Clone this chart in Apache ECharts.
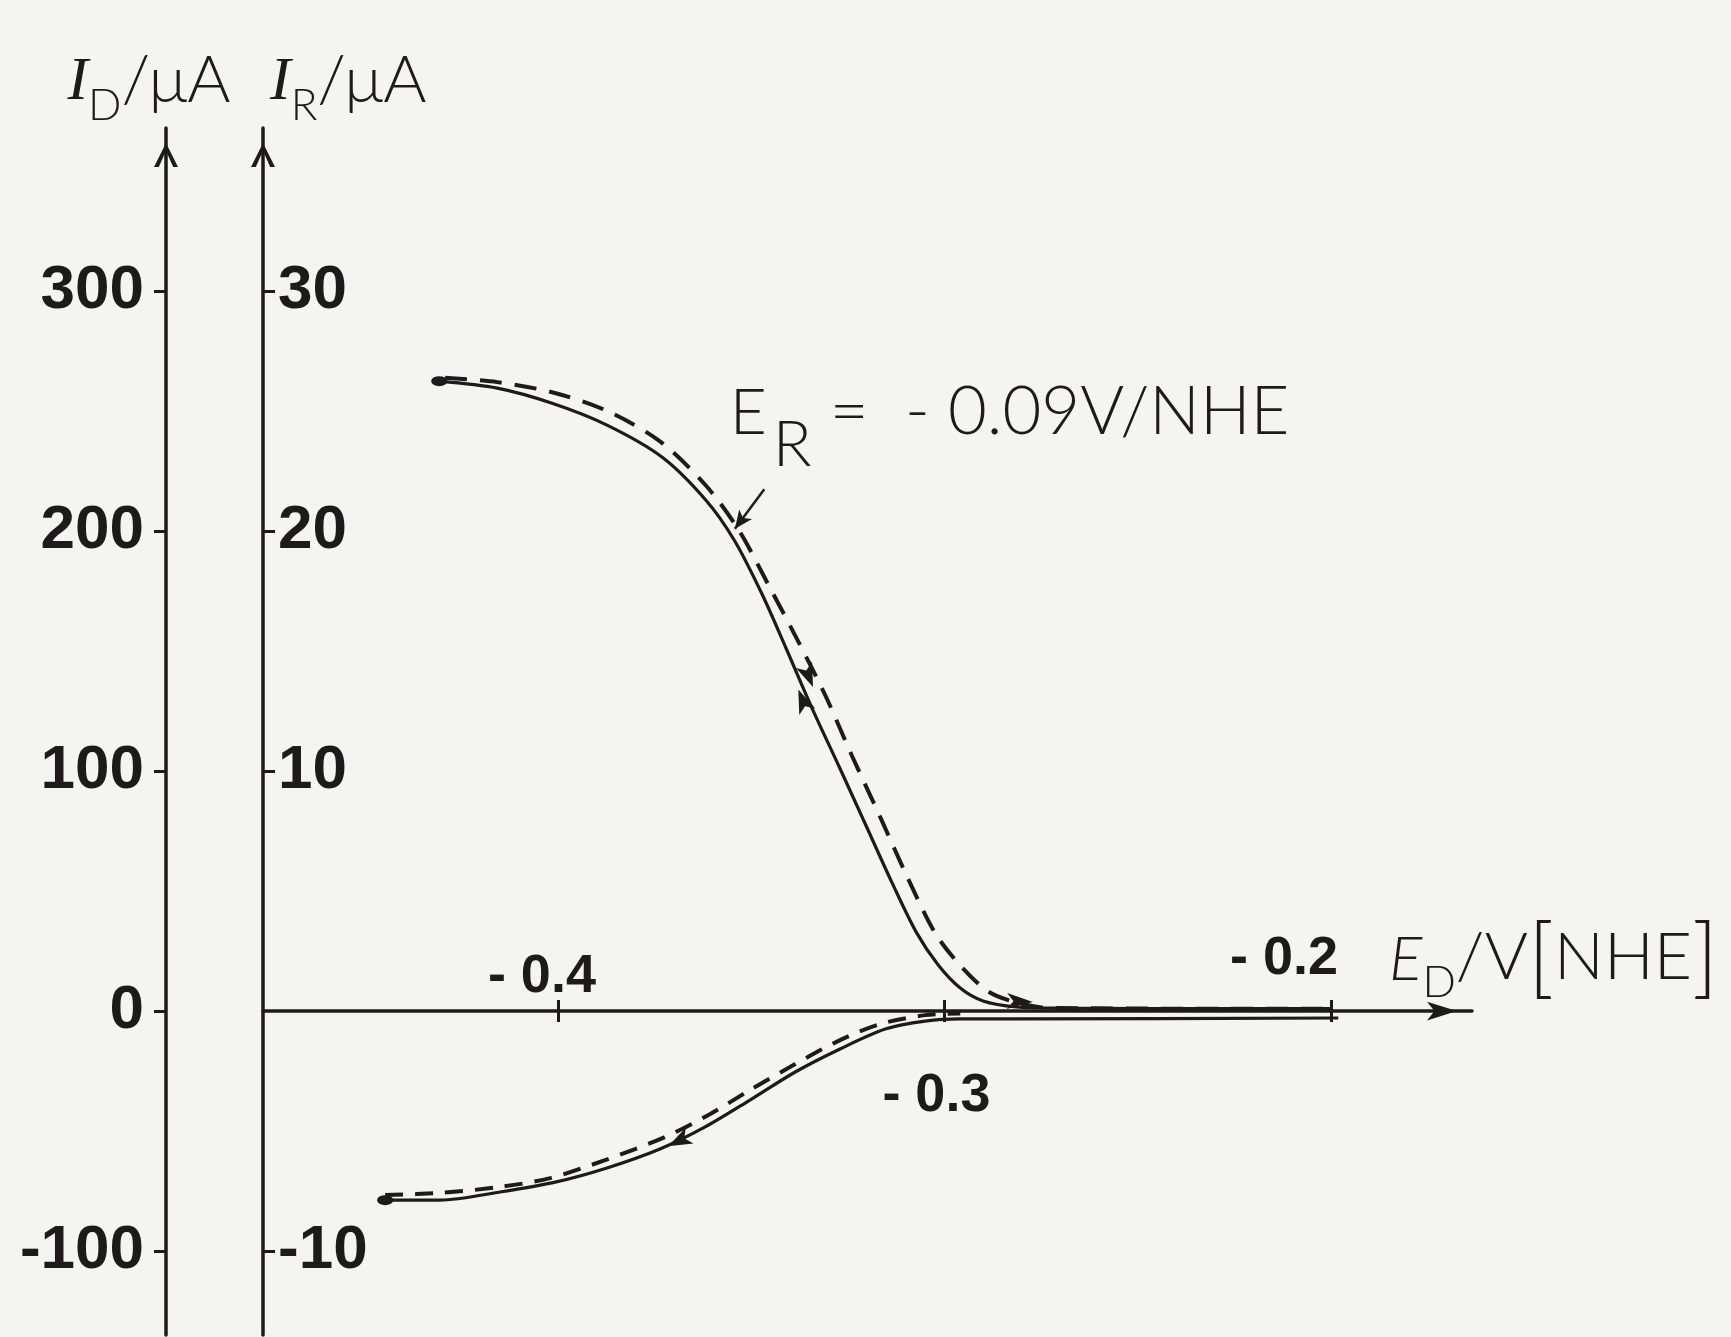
<!DOCTYPE html>
<html>
<head>
<meta charset="utf-8">
<script src="https://cdn.jsdelivr.net/npm/echarts@6/dist/echarts.min.js"></script>
<style>
html,body{margin:0;padding:0;background:#f4f4f2;}
#c{width:1731px;height:1337px;}
</style>
</head>
<body>
<div id="c"></div>
<script>
// ---- data (E in V vs NHE, currents in µA) ----
// disk current, solid sweep
const diskSolidE = [-0.4307, -0.4157, -0.4015, -0.3873, -0.3730, -0.3617, -0.3544, -0.3472, -0.3410, -0.3345, -0.3272, -0.3200, -0.3135, -0.3073, -0.3016, -0.2959, -0.2900, -0.2814, -0.2701, -0.2300, -0.2000];
const diskSolidI = [262.5, 259.6, 253.3, 244.2, 230.8, 212.9, 196.3, 173.8, 151.3, 127.1, 101.7, 76.3, 53.3, 32.9, 19.2, 9.6, 4.2, 1.7, 1.2, 1.0, 1.0];
// disk current, dashed sweep
const diskDashE = [-0.4292, -0.4157, -0.4015, -0.3873, -0.3735, -0.3616, -0.3532, -0.3455, -0.3380, -0.3308, -0.3239, -0.3166, -0.3095, -0.3024, -0.2958, -0.2887, -0.2815, -0.2730, -0.2300, -0.2000];
const diskDashI = [263.9, 262.1, 257.9, 250.1, 237.3, 218.8, 200.4, 177.5, 154.6, 131.5, 106.3, 80.8, 55.5, 32.5, 18.8, 8.2, 3.6, 1.3, 1.0, 1.0];
// ring current, solid sweep
const ringSolidE = [-0.4447, -0.4305, -0.4150, -0.4007, -0.3873, -0.3736, -0.3619, -0.3503, -0.3386, -0.3270, -0.3153, -0.3050, -0.2959, -0.2804, -0.1981];
const ringSolidI = [-7.88, -7.88, -7.54, -7.13, -6.54, -5.75, -4.83, -3.71, -2.54, -1.58, -0.75, -0.42, -0.33, -0.33, -0.29];
// ring current, dashed sweep
const ringDashE = [-0.4447, -0.4305, -0.4150, -0.4020, -0.3878, -0.3723, -0.3606, -0.3503, -0.3386, -0.3270, -0.3166, -0.3050, -0.2959];
const ringDashI = [-7.67, -7.58, -7.33, -6.96, -6.21, -5.25, -4.29, -3.29, -2.21, -1.21, -0.54, -0.17, -0.10];

// ---- axes ticks / labels ----
const xTicks = [-0.4, -0.3, -0.2];
const xTickLabels = ['- 0.4', '- 0.3', '- 0.2'];
const yTicksDisk = [300, 200, 100, 0, -100];
const yTicksRing = [30, 20, 10, -10];
const annotationText = ' =  - 0.09V/NHE';

const ink = '#1e1a1b';
const boldFont = '"Liberation Sans", Arial, Helvetica, sans-serif';
const lightFont = 'Lato, "Noto Sans", "DejaVu Sans", sans-serif';
const serifFont = '"Liberation Serif", "DejaVu Serif", serif';
const chevron = 'path://M50,0 L100,100 L80,100 L50,32 L20,100 L0,100 Z';
const zip = (a, b) => a.map((v, i) => [v, b[i]]);

// label placement style per tick (above / below the axis line)
const xLabelStyle = {
  '- 0.4': {position: 'top', distance: 6, offset: [-16, 0]},
  '- 0.3': {position: 'bottom', distance: 58, offset: [-8, 0]},
  '- 0.2': {position: 'top', distance: 24, offset: [-47, 0]}
};

const axisNameRich = {
  i: {fontFamily: serifFont, fontStyle: 'italic', fontSize: 62, color: ink, padding: [0, 0, 14, 0], verticalAlign: 'bottom'},
  s: {fontFamily: lightFont, fontWeight: 300, fontSize: 44, color: ink, verticalAlign: 'bottom'},
  t: {fontFamily: lightFont, fontWeight: 300, fontSize: 66, color: ink, padding: [0, 0, 14, 0], verticalAlign: 'bottom'}
};

const xMin = -0.4763, xMax = -0.1635;
const lineBase = {type: 'line', showSymbol: false, smooth: 0.3, silent: true, z: 3};

const option = {
  backgroundColor: '#f4f4f2',
  animation: false,
  grid: {left: 263, right: 259, top: 128, bottom: 2, containLabel: false, outerBoundsMode: 'none'},
  xAxis: [
    {
      type: 'value', position: 'bottom', min: xMin, max: xMax,
      axisLine: {show: true, onZero: true, lineStyle: {color: ink, width: 3.5},
        symbol: ['none', 'arrow'], symbolSize: [14, 30], symbolOffset: [0, -15]},
      axisTick: {show: true, inside: true, length: 11, customValues: xTicks, lineStyle: {color: ink, width: 3}},
      axisLabel: {show: false},
      splitLine: {show: false},
      name: '{e|E}{s|D}{t|/V}{b|[}{t|NHE}{b|]}',
      nameLocation: 'end', nameGap: -83, nameMoveOverlap: false,
      nameTextStyle: {align: 'left', verticalAlign: 'bottom', padding: [0, 0, 6, 0],
        rich: {
          e: {fontFamily: lightFont, fontStyle: 'italic', fontWeight: 300, fontSize: 62, color: ink, padding: [0, 0, 14, 0], verticalAlign: 'bottom'},
          s: {fontFamily: lightFont, fontWeight: 300, fontSize: 44, color: ink, verticalAlign: 'bottom'},
          t: {fontFamily: lightFont, fontWeight: 300, fontSize: 66, color: ink, padding: [0, 0, 14, 0], verticalAlign: 'bottom'},
          b: {fontFamily: lightFont, fontWeight: 300, fontSize: 88, color: ink, padding: [0, 0, 2, 0], verticalAlign: 'bottom'}
        }}
    },
    {
      type: 'value', position: 'bottom', min: xMin, max: xMax,
      axisLine: {show: false, onZero: true},
      axisTick: {show: true, inside: false, length: 11, customValues: xTicks, lineStyle: {color: ink, width: 3}},
      axisLabel: {show: false},
      splitLine: {show: false}
    }
  ],
  yAxis: [
    {
      type: 'value', position: 'left', offset: 97, min: -135, max: 368,
      axisLine: {show: true, onZero: false, lineStyle: {color: ink, width: 3.5},
        symbol: ['none', chevron], symbolSize: [24, 54], symbolOffset: [0, -27]},
      axisTick: {show: true, inside: false, length: 12, customValues: yTicksDisk, lineStyle: {color: ink, width: 3}},
      axisLabel: {show: true, inside: false, margin: 22, customValues: yTicksDisk,
        fontFamily: boldFont, fontWeight: 'bold', fontSize: 62, color: ink},
      splitLine: {show: false},
      name: '{i|I}{s|D}{t|/μA}', nameLocation: 'end', nameGap: 0, nameMoveOverlap: false,
      nameTextStyle: {align: 'center', verticalAlign: 'bottom', padding: [0, 34, 0, 0], rich: axisNameRich}
    },
    {
      type: 'value', position: 'left', offset: 0, min: -13.5, max: 36.8,
      axisLine: {show: true, onZero: false, lineStyle: {color: ink, width: 3.5},
        symbol: ['none', chevron], symbolSize: [24, 54], symbolOffset: [0, -27]},
      axisTick: {show: true, inside: true, length: 12, customValues: yTicksRing, lineStyle: {color: ink, width: 3}},
      axisLabel: {show: true, inside: true, margin: 15, customValues: yTicksRing,
        fontFamily: boldFont, fontWeight: 'bold', fontSize: 62, color: ink},
      splitLine: {show: false},
      name: '{i|I}{s|R}{t|/μA}', nameLocation: 'end', nameGap: 0, nameMoveOverlap: false,
      nameTextStyle: {align: 'left', verticalAlign: 'bottom', padding: [0, 0, 0, 7], rich: axisNameRich}
    }
  ],
  series: [
    Object.assign({}, lineBase, {
      name: 'I_D solid', xAxisIndex: 0, yAxisIndex: 0,
      data: zip(diskSolidE, diskSolidI),
      lineStyle: {color: ink, width: 3.2},
      markPoint: {
        silent: true, animation: false, label: {show: false},
        data: [
          {coord: [diskSolidE[0], diskSolidI[0]], symbol: 'circle', symbolSize: [16, 10], itemStyle: {color: ink}},
          {coord: [-0.3378, 134], symbol: 'arrow', symbolSize: [13, 24], symbolRotate: 22, itemStyle: {color: ink}}
        ]
      }
    }),
    Object.assign({}, lineBase, {
      name: 'I_D dashed', xAxisIndex: 0, yAxisIndex: 0,
      data: zip(diskDashE, diskDashI),
      lineStyle: {color: ink, width: 4, type: [22, 13]},
      markPoint: {
        silent: true, animation: false,
        data: [
          {coord: [-0.3340, 135], symbol: 'arrow', symbolSize: [13, 24], symbolRotate: 202, itemStyle: {color: ink}, label: {show: false}},
          {coord: [-0.2771, 3.8], symbol: 'arrow', symbolSize: [12, 26], symbolRotate: -92, itemStyle: {color: ink}, label: {show: false}},
          {coord: [-0.3557, 243], symbol: 'circle', symbolSize: 1, itemStyle: {color: 'rgba(0,0,0,0)'},
            label: {show: true, position: 'right', distance: 0,
              formatter: '{e|E}{r|R}{t|' + annotationText + '}',
              rich: {
                e: {fontFamily: lightFont, fontWeight: 300, fontSize: 64, color: ink, padding: [0, 0, 32, 0], verticalAlign: 'bottom'},
                r: {fontFamily: lightFont, fontWeight: 300, fontSize: 64, color: ink, padding: [0, 0, 0, 6], verticalAlign: 'bottom'},
                t: {fontFamily: lightFont, fontWeight: 300, fontSize: 67, color: ink, padding: [0, 0, 32, 0], verticalAlign: 'bottom'}
              }}}
        ]
      },
      markLine: {
        silent: true, animation: false, symbol: ['none', 'arrow'], symbolSize: [12, 18],
        label: {show: false},
        lineStyle: {color: ink, width: 2.5, type: 'solid'},
        data: [[{coord: [-0.3466, 217.5]}, {coord: [-0.3542, 201]}]]
      }
    }),
    Object.assign({}, lineBase, {
      name: 'I_R solid', xAxisIndex: 0, yAxisIndex: 1,
      data: zip(ringSolidE, ringSolidI),
      lineStyle: {color: ink, width: 3.2},
      markPoint: {
        silent: true, animation: false, label: {show: false},
        data: [
          {coord: [ringSolidE[0], ringSolidI[0]], symbol: 'circle', symbolSize: [16, 10], itemStyle: {color: ink}},
          {coord: [-0.3715, -5.63], symbol: 'arrow', symbolSize: [13, 24], symbolRotate: 116, itemStyle: {color: ink}}
        ]
      }
    }),
    Object.assign({}, lineBase, {
      name: 'I_R dashed', xAxisIndex: 0, yAxisIndex: 1,
      data: zip(ringDashE, ringDashI),
      lineStyle: {color: ink, width: 4, type: [18, 12]}
    }),
    {
      name: 'E tick labels', type: 'scatter', xAxisIndex: 0, yAxisIndex: 0, silent: true, z: 5,
      symbolSize: 1, itemStyle: {color: 'rgba(0,0,0,0)', opacity: 1},
      data: xTicks.map((v, k) => ({
        value: [v, 0],
        label: Object.assign({show: true, formatter: xTickLabels[k], opacity: 1,
          fontFamily: boldFont, fontWeight: 'bold', fontSize: 54, color: ink}, xLabelStyle[xTickLabels[k]])
      }))
    }
  ]
};

const chart = echarts.init(document.getElementById('c'), null, {renderer: 'canvas'});
chart.setOption(option);
</script>
</body>
</html>
